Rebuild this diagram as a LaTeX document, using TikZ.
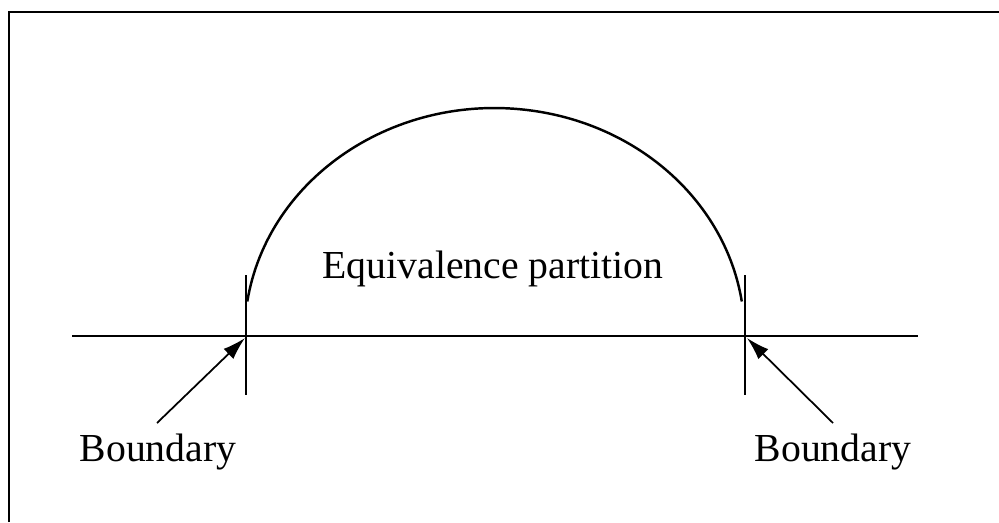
\documentclass[tikz,border=0pt]{standalone}
\usepackage{fontspec}
\setmainfont{Liberation Serif}
\usetikzlibrary{arrows.meta}

\begin{document}
\begin{tikzpicture}[x=0.02cm, y=0.02cm, font=\fontsize{22.6}{26}\selectfont,
  axisline/.style={line width=1.5pt},
  pointer/.style={line width=1pt, -{Latex[length=13pt,width=8pt]}}]
\useasboundingbox (0,0) rectangle (999,522);
% frame (top and left only)
\draw[line width=1.5pt] (9,0) -- (9,510) -- (999,510);
% axis and boundary ticks
\coordinate (axisL) at (72,186);
\coordinate (axisR) at (918,186);
\draw[axisline] (axisL) -- (axisR);
\coordinate (lotop) at (246,247);
\coordinate (lobot) at (246,127);
\coordinate (hitop) at (745,247);
\coordinate (hibot) at (745,127);
\draw[axisline] (lotop) -- (lobot);
\draw[axisline] (hitop) -- (hibot);
% partition arc
\draw[line width=1.4pt] (247.3,220.5) arc[start angle=171.5, end angle=8.5, x radius=250, y radius=227];
\node[anchor=base] (part) at (493,244) {Equivalence partition};
% boundary labels
\node[anchor=base] (bleft) at (158,61) {Boundary};
\node[anchor=base] (bright) at (833,61) {Boundary};
\coordinate (ltail) at (157,99);
\coordinate (ltip) at (245,184);
\coordinate (rtail) at (833,99);
\coordinate (rtip) at (747,184);
\draw[pointer] (ltail) -- (ltip);
\draw[pointer] (rtail) -- (rtip);
\end{tikzpicture}
\end{document}
